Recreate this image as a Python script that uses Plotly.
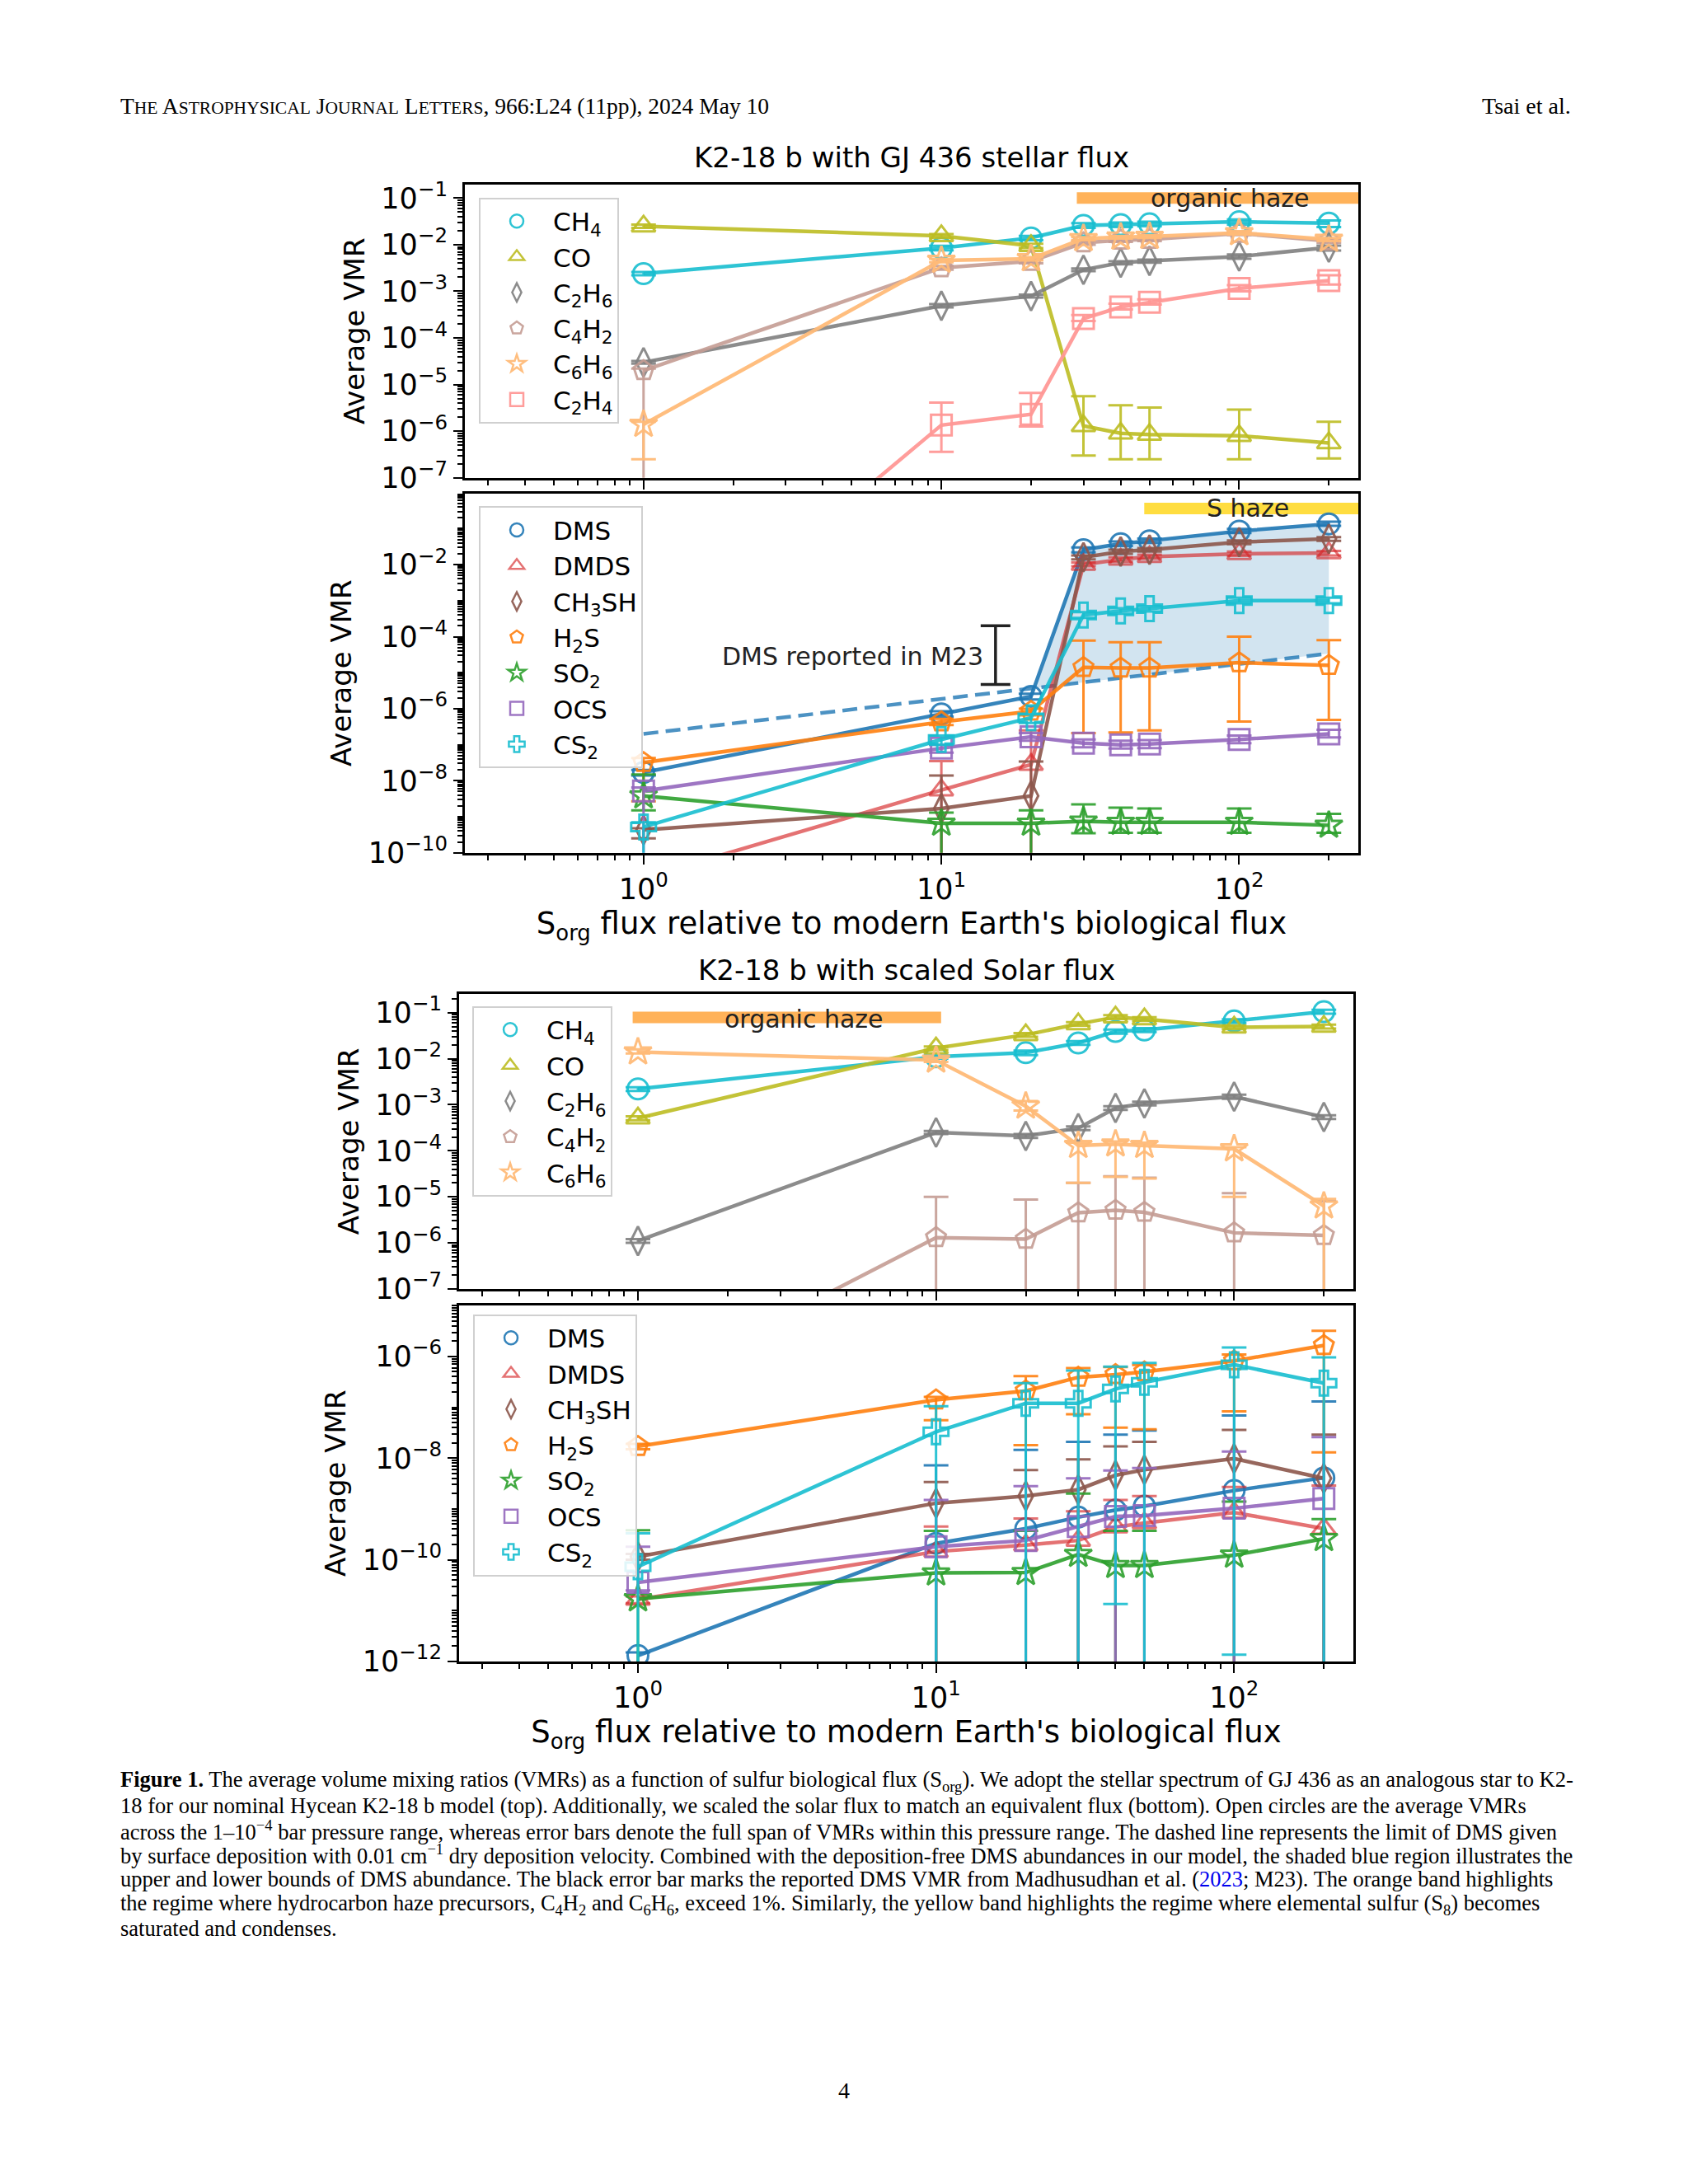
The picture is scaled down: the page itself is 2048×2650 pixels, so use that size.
import math
import plotly.graph_objects as go

W, H = 2048, 2650
OFF = 8  # browser body margin compensation (px)

# ---------------- data ----------------
x_flux = [1, 10, 20, 30, 40, 50, 100, 200]

# Top: GJ 436 stellar flux, hydrocarbons
gj_ch4 = [2.4e-3, 8.5e-3, 1.4e-2, 2.6e-2, 2.7e-2, 2.8e-2, 3.1e-2, 2.9e-2]
gj_ch4_lo = [2.2e-3, 7.6e-3, 1.25e-2, 2.3e-2, 2.4e-2, 2.5e-2, 2.7e-2, 2.4e-2]
gj_ch4_hi = [2.6e-3, 9.5e-3, 1.55e-2, 2.9e-2, 3.0e-2, 3.1e-2, 3.5e-2, 3.3e-2]
gj_co = [2.5e-2, 1.55e-2, 9.5e-3, 1.3e-6, 9e-7, 8.5e-7, 8e-7, 5.6e-7]
gj_co_lo = [2.3e-2, 1.4e-2, 8.5e-3, 3e-7, 2.5e-7, 2.5e-7, 2.5e-7, 2.6e-7]
gj_co_hi = [2.7e-2, 1.7e-2, 1.05e-2, 5.6e-6, 3.6e-6, 3.2e-6, 2.9e-6, 1.6e-6]
gj_c2h6 = [3e-5, 4.9e-4, 7.9e-4, 2.9e-3, 4.1e-3, 4.5e-3, 5.6e-3, 8.7e-3]
gj_c2h6_lo = [2.8e-5, 4.5e-4, 7.4e-4, 2.7e-3, 3.8e-3, 4.1e-3, 5.0e-3, 7.5e-3]
gj_c2h6_hi = [3.2e-5, 5.3e-4, 8.5e-4, 3.1e-3, 4.4e-3, 4.8e-3, 6.2e-3, 9.6e-3]
gj_c4h2 = [2e-5, 3.2e-3, 4.4e-3, 1.1e-2, 1.25e-2, 1.3e-2, 1.75e-2, 1.2e-2]
gj_c4h2_lo = [1e-14, 2.9e-3, 4.0e-3, 1.0e-2, 1.15e-2, 1.2e-2, 1.6e-2, 1.1e-2]
gj_c4h2_hi = [2.2e-5, 3.5e-3, 4.8e-3, 1.2e-2, 1.35e-2, 1.4e-2, 1.9e-2, 1.3e-2]
gj_c6h6 = [1.4e-6, 4.6e-3, 5e-3, 1.35e-2, 1.45e-2, 1.5e-2, 1.8e-2, 1.3e-2]
gj_c6h6_lo = [2.5e-7, 4.2e-3, 4.6e-3, 1.25e-2, 1.35e-2, 1.4e-2, 1.65e-2, 1.2e-2]
gj_c6h6_hi = [1.6e-6, 5.0e-3, 5.4e-3, 1.45e-2, 1.55e-2, 1.6e-2, 1.95e-2, 1.4e-2]
gj_c2h4 = [6e-12, 1.35e-6, 2.3e-6, 2.6e-4, 4.6e-4, 5.8e-4, 1.15e-3, 1.7e-3]
gj_c2h4_lo = [5e-12, 3.6e-7, 1.26e-6, 2.3e-4, 4.1e-4, 5.2e-4, 1.0e-3, 1.4e-3]
gj_c2h4_hi = [7e-12, 4.1e-6, 6.6e-6, 3.1e-4, 5.4e-4, 6.7e-4, 1.35e-3, 2.2e-3]

# Second: GJ 436 stellar flux, sulfur species
gj_dms = [1.7e-8, 7.2e-7, 2.2e-6, 2.6e-2, 3.8e-2, 4.6e-2, 8.5e-2, 1.35e-1]
gj_dms_lo = [1.4e-8, 6e-7, 1.8e-6, 2.2e-2, 3.3e-2, 4.0e-2, 7.5e-2, 1.2e-1]
gj_dms_hi = [2e-8, 8.5e-7, 2.6e-6, 3.0e-2, 4.4e-2, 5.3e-2, 9.8e-2, 1.55e-1]
gj_dmds = [2e-11, 5.5e-9, 2.8e-8, 1e-2, 1.4e-2, 1.65e-2, 2e-2, 2.1e-2]
gj_dmds_lo = [1e-11, 1e-14, 1e-14, 9e-3, 1.2e-2, 1.45e-2, 1.75e-2, 1.8e-2]
gj_dmds_hi = [3e-11, 3.5e-8, 2.5e-7, 1.15e-2, 1.6e-2, 1.9e-2, 2.3e-2, 2.4e-2]
gj_ch3sh = [4.3e-10, 1.7e-9, 3.8e-9, 1.6e-2, 2.3e-2, 2.6e-2, 4.2e-2, 5.2e-2]
gj_ch3sh_lo = [2.5e-10, 1e-14, 1e-14, 1.4e-2, 2.0e-2, 2.3e-2, 3.7e-2, 4.6e-2]
gj_ch3sh_hi = [4.8e-10, 1.4e-8, 3.4e-8, 1.8e-2, 2.6e-2, 2.9e-2, 4.7e-2, 5.8e-2]
gj_h2s = [3.2e-8, 4.3e-7, 8.5e-7, 1.4e-5, 1.35e-5, 1.35e-5, 1.9e-5, 1.6e-5]
gj_h2s_lo = [2.7e-9, 3.5e-7, 6.5e-7, 2.1e-7, 2.2e-7, 2.5e-7, 4.4e-7, 4.9e-7]
gj_h2s_hi = [4.3e-8, 5.2e-7, 1.0e-6, 7.8e-5, 7e-5, 7e-5, 1.0e-4, 8e-5]
gj_so2 = [3.8e-9, 6.6e-10, 6.6e-10, 7.5e-10, 7e-10, 7e-10, 7e-10, 5.8e-10]
gj_so2_lo = [1.5e-9, 1e-14, 1e-14, 3.5e-10, 3.6e-10, 3.6e-10, 3.6e-10, 3.6e-10]
gj_so2_hi = [1.5e-8, 1.3e-9, 1.5e-9, 2.2e-9, 1.8e-9, 1.7e-9, 1.7e-9, 1.2e-9]
gj_ocs = [5.2e-9, 8e-8, 1.65e-7, 1.1e-7, 1e-7, 1.05e-7, 1.4e-7, 2e-7]
gj_ocs_lo = [1e-14, 6e-8, 1.3e-7, 8.5e-8, 7.8e-8, 8e-8, 1.1e-7, 1.6e-7]
gj_ocs_hi = [6.5e-9, 1e-7, 2.1e-7, 1.4e-7, 1.3e-7, 1.35e-7, 1.8e-7, 2.6e-7]
gj_cs2 = [5.2e-10, 1.4e-7, 5.6e-7, 4e-4, 5.2e-4, 6e-4, 1.0e-3, 1.0e-3]
gj_cs2_lo = [1e-14, 1e-7, 4e-7, 3.3e-4, 4.3e-4, 5e-4, 8.5e-4, 8.5e-4]
gj_cs2_hi = [7e-10, 1.8e-7, 7e-7, 4.8e-4, 6.2e-4, 7e-4, 1.2e-3, 1.2e-3]
gj_dms_deposition = [2e-7, 1.9e-6, 3.6e-6, 5.4e-6, 7.1e-6, 8.9e-6, 1.75e-5, 3.4e-5]

# M23 reported DMS
m23_x = [15.2]
m23_mid = [3.0e-5]
m23_lo = [4.7e-6]
m23_hi = [2.0e-4]

# Third: scaled Solar flux, hydrocarbons
sol_ch4 = [2.2e-3, 1.1e-2, 1.35e-2, 2.2e-2, 3.9e-2, 4.2e-2, 6.6e-2, 1.05e-1]
sol_ch4_lo = [2.0e-3, 1.0e-2, 1.2e-2, 2.0e-2, 3.5e-2, 3.8e-2, 6.0e-2, 9.5e-2]
sol_ch4_hi = [2.4e-3, 1.2e-2, 1.5e-2, 2.4e-2, 4.3e-2, 4.6e-2, 7.2e-2, 1.15e-1]
sol_co = [5.1e-4, 1.7e-2, 3.3e-2, 5.7e-2, 8e-2, 7.3e-2, 4.8e-2, 5e-2]
sol_co_lo = [4.6e-4, 1.55e-2, 3.0e-2, 5.2e-2, 7.3e-2, 6.6e-2, 4.4e-2, 4.5e-2]
sol_co_hi = [5.6e-4, 1.85e-2, 3.6e-2, 6.2e-2, 8.8e-2, 8.0e-2, 5.3e-2, 5.5e-2]
sol_c2h6 = [1.1e-6, 2.5e-4, 2.1e-4, 3.1e-4, 8.5e-4, 1.07e-3, 1.5e-3, 5.4e-4]
sol_c2h6_lo = [1.0e-6, 2.3e-4, 1.9e-4, 2.8e-4, 7.7e-4, 9.7e-4, 1.35e-3, 4.9e-4]
sol_c2h6_hi = [1.2e-6, 2.7e-4, 2.3e-4, 3.4e-4, 9.3e-4, 1.17e-3, 1.65e-3, 5.9e-4]
sol_c4h2 = [6e-10, 1.3e-6, 1.2e-6, 4.5e-6, 5.1e-6, 4.6e-6, 1.65e-6, 1.45e-6]
sol_c4h2_lo = [5e-10, 1e-14, 1e-14, 1e-14, 1e-14, 1e-14, 1e-14, 1e-14]
sol_c4h2_hi = [7e-10, 1e-5, 8.7e-6, 2e-5, 2.8e-5, 2.6e-5, 1.2e-5, 8e-6]
sol_c6h6 = [1.4e-2, 9.3e-3, 9.3e-4, 1.3e-4, 1.4e-4, 1.3e-4, 1.1e-4, 6.3e-6]
sol_c6h6_lo = [1.3e-2, 8.5e-3, 7.5e-4, 2e-5, 2.7e-5, 2.5e-5, 1e-5, 1e-14]
sol_c6h6_hi = [1.6e-2, 1.05e-2, 1.2e-3, 1.5e-4, 1.6e-4, 1.5e-4, 1.2e-4, 9e-6]

# Bottom: scaled Solar flux, sulfur species
sol_dms = [1.3e-12, 2.1e-10, 4.1e-10, 6.9e-10, 9.5e-10, 1.14e-9, 2.3e-9, 4.1e-9]
sol_dms_lo = [1e-14, 1e-14, 1e-14, 1e-14, 1e-14, 1e-14, 1e-14, 1e-14]
sol_dms_hi = [1.5e-12, 7.2e-9, 1.45e-8, 2.1e-8, 2.9e-8, 3.5e-8, 6.9e-8, 1.3e-7]
sol_dmds = [1.65e-11, 1.45e-10, 1.95e-10, 2.4e-10, 4.4e-10, 5.3e-10, 8.5e-10, 4.1e-10]
sol_dmds_lo = [1.4e-11, 1e-14, 1e-14, 1e-14, 1e-14, 1e-14, 1e-14, 1e-14]
sol_dmds_hi = [1.9e-11, 4.5e-10, 6.5e-10, 9e-10, 1.5e-9, 1.8e-9, 2.7e-9, 2.9e-9]
sol_ch3sh = [1.15e-10, 1.3e-9, 1.8e-9, 2.4e-9, 4.6e-9, 5.9e-9, 9.8e-9, 4e-9]
sol_ch3sh_lo = [1.0e-10, 1e-14, 1e-14, 1e-14, 1e-14, 1e-14, 1e-14, 1e-14]
sol_ch3sh_hi = [1.3e-10, 3.4e-9, 5.8e-9, 9.5e-9, 1.7e-8, 2.1e-8, 3.6e-8, 2.9e-8]
sol_h2s = [1.7e-8, 1.4e-7, 2.1e-7, 3.9e-7, 4.4e-7, 5e-7, 8.2e-7, 1.65e-6]
sol_h2s_lo = [1.5e-8, 5.6e-8, 1.8e-8, 7.3e-8, 4e-8, 3.7e-8, 8.3e-8, 1.3e-8]
sol_h2s_hi = [1.9e-8, 1.6e-7, 4.1e-7, 5.9e-7, 6.2e-7, 6.8e-7, 1.1e-6, 3.2e-6]
sol_so2 = [1.7e-11, 5.5e-11, 5.6e-11, 1.27e-10, 7.7e-11, 7.7e-11, 1.23e-10, 2.6e-10]
sol_so2_lo = [1e-14, 1e-14, 1e-14, 1e-14, 1e-14, 1e-14, 1e-14, 1e-14]
sol_so2_hi = [3.8e-10, 3.7e-10, 3.7e-10, 2e-9, 3.7e-10, 3.7e-10, 1.4e-9, 6.3e-10]
sol_ocs = [3.6e-11, 1.8e-10, 2.4e-10, 4.5e-10, 7.1e-10, 7.4e-10, 1.03e-9, 1.6e-9]
sol_ocs_lo = [2.5e-11, 1e-14, 1e-14, 1e-14, 1e-14, 1e-14, 1e-14, 1e-14]
sol_ocs_hi = [1.8e-10, 1.5e-9, 2.8e-9, 4e-9, 5.7e-9, 6.4e-9, 1.35e-8, 2.6e-8]
sol_cs2 = [7.3e-11, 3.3e-8, 1.2e-7, 1.2e-7, 2.3e-7, 3.1e-7, 6.9e-7, 3e-7]
sol_cs2_lo = [1e-14, 1e-14, 1e-14, 1e-14, 1.35e-11, 1e-14, 1.35e-12, 1e-14]
sol_cs2_hi = [3.3e-10, 1.05e-7, 3e-7, 5.3e-7, 6.3e-7, 7.5e-7, 1.5e-6, 9.6e-7]

# haze bands (x extent, y level)
gj_org_haze_x = [28.5, 400]
gj_org_haze_y = [0.1, 0.1]
gj_s_haze_x = [48, 400]
gj_s_haze_y = [0.36, 0.36]
sol_org_haze_x = [0.96, 10.4]
sol_org_haze_y = [0.079, 0.079]

x_ticks = [1, 10, 100]
x_ticktext = ["10<sup>0</sup>", "10<sup>1</sup>", "10<sup>2</sup>"]

# ---------------- style ----------------
C_CH4 = "rgba(23,190,207,0.9)"
C_CO = "rgba(188,189,34,0.9)"
C_C2H6 = "rgba(127,127,127,0.9)"
C_C4H2 = "rgba(196,156,148,0.9)"
C_C6H6 = "rgba(255,187,120,0.95)"
C_C2H4 = "rgba(255,152,150,0.95)"
C_DMS = "rgba(31,119,180,0.9)"
C_DMDS = "rgba(214,39,40,0.65)"
C_CH3SH = "rgba(140,86,75,0.9)"
C_H2S = "rgba(255,127,14,0.9)"
C_SO2 = "rgba(44,160,44,0.9)"
C_OCS = "rgba(148,103,189,0.9)"
C_CS2 = "rgba(23,190,207,0.9)"

FONT = "DejaVu Sans"
SERIF = "Liberation Serif"

fig = go.Figure()


def add_series(xa, ya, y, lo, hi, color, symbol, name, legend):
    plus = [h - v for h, v in zip(hi, y)]
    minus = [v - l for v, l in zip(y, lo)]
    fig.add_trace(go.Scatter(
        x=x_flux, y=y, mode="lines+markers", xaxis=xa, yaxis=ya,
        line=dict(color=color, width=4.5),
        marker=dict(symbol=symbol, size=25, color=color, line=dict(color=color, width=3)),
        error_y=dict(type="data", symmetric=False, array=plus, arrayminus=minus,
                     color=color, thickness=3, width=15),
        showlegend=False, name=name))
    fig.add_trace(go.Scatter(
        x=[None], y=[None], mode="markers", xaxis=xa, yaxis=ya,
        marker=dict(symbol=symbol, size=25, color=color, line=dict(color=color, width=2.5)),
        name=name, legend=legend, legendgroup=legend + name, showlegend=True))


# bands first (behind)
for xa, ya, bx, by, bc in [("x", "y", gj_org_haze_x, gj_org_haze_y, "rgba(255,165,60,0.85)"),
                           ("x2", "y2", gj_s_haze_x, gj_s_haze_y, "rgba(255,215,30,0.85)"),
                           ("x3", "y3", sol_org_haze_x, sol_org_haze_y, "rgba(255,165,60,0.85)")]:
    fig.add_trace(go.Scatter(x=bx, y=by, mode="lines", xaxis=xa, yaxis=ya,
                             line=dict(color=bc, width=14), showlegend=False, hoverinfo="skip"))

# shaded DMS region (panel 2)
fill_x = x_flux[2:]
fig.add_trace(go.Scatter(x=fill_x, y=gj_dms_deposition[2:], mode="lines", xaxis="x2", yaxis="y2",
                         line=dict(width=0, color="rgba(0,0,0,0)"), showlegend=False, hoverinfo="skip"))
fig.add_trace(go.Scatter(x=fill_x, y=gj_dms[2:], mode="lines", xaxis="x2", yaxis="y2",
                         line=dict(width=0, color="rgba(0,0,0,0)"), fill="tonexty",
                         fillcolor="rgba(31,119,180,0.2)", showlegend=False, hoverinfo="skip"))
fig.add_trace(go.Scatter(x=x_flux, y=gj_dms_deposition, mode="lines", xaxis="x2", yaxis="y2",
                         line=dict(color="rgba(31,119,180,0.8)", width=4.5, dash="18px,9px"),
                         showlegend=False, hoverinfo="skip"))

# Panel 1
add_series("x", "y", gj_ch4, gj_ch4_lo, gj_ch4_hi, C_CH4, "circle-open", "CH<sub>4</sub>", "legend")
add_series("x", "y", gj_co, gj_co_lo, gj_co_hi, C_CO, "triangle-up-open", "CO", "legend")
add_series("x", "y", gj_c2h6, gj_c2h6_lo, gj_c2h6_hi, C_C2H6, "diamond-tall-open", "C<sub>2</sub>H<sub>6</sub>", "legend")
add_series("x", "y", gj_c4h2, gj_c4h2_lo, gj_c4h2_hi, C_C4H2, "pentagon-open", "C<sub>4</sub>H<sub>2</sub>", "legend")
add_series("x", "y", gj_c6h6, gj_c6h6_lo, gj_c6h6_hi, C_C6H6, "star-open", "C<sub>6</sub>H<sub>6</sub>", "legend")
add_series("x", "y", gj_c2h4, gj_c2h4_lo, gj_c2h4_hi, C_C2H4, "square-open", "C<sub>2</sub>H<sub>4</sub>", "legend")

# Panel 2
add_series("x2", "y2", gj_dms, gj_dms_lo, gj_dms_hi, C_DMS, "circle-open", "DMS", "legend2")
add_series("x2", "y2", gj_dmds, gj_dmds_lo, gj_dmds_hi, C_DMDS, "triangle-up-open", "DMDS", "legend2")
add_series("x2", "y2", gj_ch3sh, gj_ch3sh_lo, gj_ch3sh_hi, C_CH3SH, "diamond-tall-open", "CH<sub>3</sub>SH", "legend2")
add_series("x2", "y2", gj_h2s, gj_h2s_lo, gj_h2s_hi, C_H2S, "pentagon-open", "H<sub>2</sub>S", "legend2")
add_series("x2", "y2", gj_so2, gj_so2_lo, gj_so2_hi, C_SO2, "star-open", "SO<sub>2</sub>", "legend2")
add_series("x2", "y2", gj_ocs, gj_ocs_lo, gj_ocs_hi, C_OCS, "square-open", "OCS", "legend2")
add_series("x2", "y2", gj_cs2, gj_cs2_lo, gj_cs2_hi, C_CS2, "cross-open", "CS<sub>2</sub>", "legend2")

# M23 bar
fig.add_trace(go.Scatter(x=m23_x, y=m23_mid, mode="markers", xaxis="x2", yaxis="y2",
                         marker=dict(size=1, color="rgba(0,0,0,0)"),
                         error_y=dict(type="data", symmetric=False,
                                      array=[h - m for h, m in zip(m23_hi, m23_mid)],
                                      arrayminus=[m - l for m, l in zip(m23_mid, m23_lo)],
                                      color="#222222", thickness=3.5, width=18),
                         showlegend=False, hoverinfo="skip"))

# Panel 3
add_series("x3", "y3", sol_ch4, sol_ch4_lo, sol_ch4_hi, C_CH4, "circle-open", "CH<sub>4</sub>", "legend3")
add_series("x3", "y3", sol_co, sol_co_lo, sol_co_hi, C_CO, "triangle-up-open", "CO", "legend3")
add_series("x3", "y3", sol_c2h6, sol_c2h6_lo, sol_c2h6_hi, C_C2H6, "diamond-tall-open", "C<sub>2</sub>H<sub>6</sub>", "legend3")
add_series("x3", "y3", sol_c4h2, sol_c4h2_lo, sol_c4h2_hi, C_C4H2, "pentagon-open", "C<sub>4</sub>H<sub>2</sub>", "legend3")
add_series("x3", "y3", sol_c6h6, sol_c6h6_lo, sol_c6h6_hi, C_C6H6, "star-open", "C<sub>6</sub>H<sub>6</sub>", "legend3")

# Panel 4
add_series("x4", "y4", sol_dms, sol_dms_lo, sol_dms_hi, C_DMS, "circle-open", "DMS", "legend4")
add_series("x4", "y4", sol_dmds, sol_dmds_lo, sol_dmds_hi, C_DMDS, "triangle-up-open", "DMDS", "legend4")
add_series("x4", "y4", sol_ch3sh, sol_ch3sh_lo, sol_ch3sh_hi, C_CH3SH, "diamond-tall-open", "CH<sub>3</sub>SH", "legend4")
add_series("x4", "y4", sol_h2s, sol_h2s_lo, sol_h2s_hi, C_H2S, "pentagon-open", "H<sub>2</sub>S", "legend4")
add_series("x4", "y4", sol_so2, sol_so2_lo, sol_so2_hi, C_SO2, "star-open", "SO<sub>2</sub>", "legend4")
add_series("x4", "y4", sol_ocs, sol_ocs_lo, sol_ocs_hi, C_OCS, "square-open", "OCS", "legend4")
add_series("x4", "y4", sol_cs2, sol_cs2_lo, sol_cs2_hi, C_CS2, "cross-open", "CS<sub>2</sub>", "legend4")


# ---------------- axes ----------------
def px_x(a, b):
    return [(a - OFF) / W, (b - OFF) / W]


def px_y(top, bottom):
    return [1 - (bottom - OFF) / H, 1 - (top - OFF) / H]


def pxx(v):
    return (v - OFF) / W


def pxy(v):
    return 1 - (v - OFF) / H


def decade_ticks(lo, hi, step_label):
    vals = [10.0 ** e for e in range(lo, hi + 1) if e % step_label == 0]
    txt = ["10<sup>%s</sup>" % (str(e).replace("-", "\u2212")) for e in range(lo, hi + 1) if e % step_label == 0]
    return vals, txt


axis_common = dict(type="log", showline=True, linecolor="black", linewidth=3, mirror=True,
                   ticks="outside", ticklen=11, tickwidth=2, tickcolor="black",
                   showgrid=False, zeroline=False,
                   tickfont=dict(family=FONT, size=35, color="black"),
                   minor=dict(ticks="outside", ticklen=6, tickwidth=1.5, tickcolor="black",
                              dtick="D1", showgrid=False))

xr = [-0.6, 2.4]
panels = [
    ((564, 1648), (217, 577), [-7, -0.706], (-7, -1), 1, False),
    ((564, 1648), (596, 1037), [-10, -0.02], (-10, -1), 2, True),
    ((557, 1642), (1210, 1572), [-7, -0.59], (-7, -1), 1, False),
    ((557, 1642), (1592, 2029), [-12, -4.99], (-12, -5), 2, True),
]
title_font = dict(family=FONT, size=34, color="black")
for i, (xd, yd, yr, (dlo, dhi), step, showx) in enumerate(panels, start=1):
    xs = "" if i == 1 else str(i)
    yv, yt = decade_ticks(dlo, dhi, step)
    xdict = dict(axis_common, domain=px_x(*xd), range=xr, anchor="y" + xs,
                 tickvals=x_ticks, ticktext=x_ticktext, showticklabels=showx)
    if showx:
        xdict["title"] = dict(text="S<sub>org</sub> flux relative to modern Earth's biological flux",
                              font=dict(family=FONT, size=37, color="black"), standoff=10)
    fig.layout["xaxis" + xs] = xdict
    fig.layout["yaxis" + xs] = dict(axis_common, domain=px_y(*yd), range=yr, anchor="x" + xs,
                                    tickvals=yv, ticktext=yt,
                                    title=dict(text="Average VMR", font=title_font, standoff=10))

# ---------------- legends ----------------
leg_common = dict(xanchor="left", yanchor="top", bgcolor="rgba(255,255,255,0.85)",
                  bordercolor="#d0d0d0", borderwidth=2,
                  font=dict(family=FONT, size=31, color="black"), tracegroupgap=0,
                  itemsizing="trace", itemwidth=78)
fig.update_layout(
    legend=dict(leg_common, x=pxx(581), y=pxy(233)),
    legend2=dict(leg_common, x=pxx(581), y=pxy(612)),
    legend3=dict(leg_common, x=pxx(573), y=pxy(1225)),
    legend4=dict(leg_common, x=pxx(574), y=pxy(1603)),
)

# ---------------- annotations ----------------
ann = []
ann.append(dict(text="K2-18 b with GJ 436 stellar flux", x=pxx(1106), y=pxy(184), xref="paper", yref="paper",
                showarrow=False, font=dict(family=FONT, size=34, color="black"), xanchor="center", yanchor="middle"))
ann.append(dict(text="K2-18 b with scaled Solar flux", x=pxx(1100), y=pxy(1181), xref="paper", yref="paper",
                showarrow=False, font=dict(family=FONT, size=34, color="black"), xanchor="center", yanchor="middle"))
ann.append(dict(text="organic haze", x=math.log10(93), y=-1.0, xref="x", yref="y", showarrow=False,
                font=dict(family=FONT, size=30, color="#222222"), xanchor="center", yanchor="middle"))
ann.append(dict(text="S haze", x=math.log10(107), y=-0.44, xref="x2", yref="y2", showarrow=False,
                font=dict(family=FONT, size=30, color="#222222"), xanchor="center", yanchor="middle"))
ann.append(dict(text="organic haze", x=math.log10(3.6), y=-1.13, xref="x3", yref="y3", showarrow=False,
                font=dict(family=FONT, size=30, color="#222222"), xanchor="center", yanchor="middle"))
ann.append(dict(text="DMS reported in M23", x=math.log10(14.0), y=-4.55, xref="x2", yref="y2", showarrow=False,
                font=dict(family=FONT, size=30, color="#222222"), xanchor="right", yanchor="middle"))

# page header
sc = lambda s: "<span style='font-size:21.5px'>%s</span>" % s
header = "T" + sc("HE") + " A" + sc("STROPHYSICAL") + " J" + sc("OURNAL") + " L" + sc("ETTERS") + ", 966:L24 (11pp), 2024 May 10"
ann.append(dict(text=header, x=pxx(144), y=pxy(121), xref="paper", yref="paper", showarrow=False,
                font=dict(family=SERIF, size=27.5, color="black"), xanchor="left", yanchor="middle"))
ann.append(dict(text="Tsai et al.", x=pxx(1908), y=pxy(121), xref="paper", yref="paper", showarrow=False,
                font=dict(family=SERIF, size=28, color="black"), xanchor="right", yanchor="middle"))

caption_lines = [
    "<b>Figure 1.</b> The average volume mixing ratios (VMRs) as a function of sulfur biological flux (S<sub>org</sub>). We adopt the stellar spectrum of GJ 436 as an analogous star to K2-",
    "18 for our nominal Hycean K2-18 b model (top). Additionally, we scaled the solar flux to match an equivalent flux (bottom). Open circles are the average VMRs",
    "across the 1\u201310<sup>\u22124</sup> bar pressure range, whereas error bars denote the full span of VMRs within this pressure range. The dashed line represents the limit of DMS given",
    "by surface deposition with 0.01 cm<sup>\u22121</sup> dry deposition velocity. Combined with the deposition-free DMS abundances in our model, the shaded blue region illustrates the",
    "upper and lower bounds of DMS abundance. The black error bar marks the reported DMS VMR from Madhusudhan et al. (<span style='color:#0000ee'>2023</span>; M23). The orange band highlights",
    "the regime where hydrocarbon haze precursors, C<sub>4</sub>H<sub>2</sub> and C<sub>6</sub>H<sub>6</sub>, exceed 1%. Similarly, the yellow band highlights the regime where elemental sulfur (S<sub>8</sub>) becomes",
    "saturated and condenses.",
]
caption_y = [2176, 2206, 2236, 2266, 2296, 2327, 2357]
for t, yy in zip(caption_lines, caption_y):
    ann.append(dict(text=t, x=pxx(144), y=pxy(yy), xref="paper", yref="paper", showarrow=False,
                    font=dict(family=SERIF, size=26.5, color="black"), xanchor="left", yanchor="middle"))
ann.append(dict(text="4", x=pxx(1024), y=pxy(2555), xref="paper", yref="paper", showarrow=False,
                font=dict(family=SERIF, size=28, color="black"), xanchor="center", yanchor="middle"))

fig.update_layout(annotations=ann, width=W, height=H, margin=dict(l=0, r=0, t=0, b=0),
                  paper_bgcolor="white", plot_bgcolor="white",
                  font=dict(family=FONT, color="black"))

fig.write_html("out.html")
